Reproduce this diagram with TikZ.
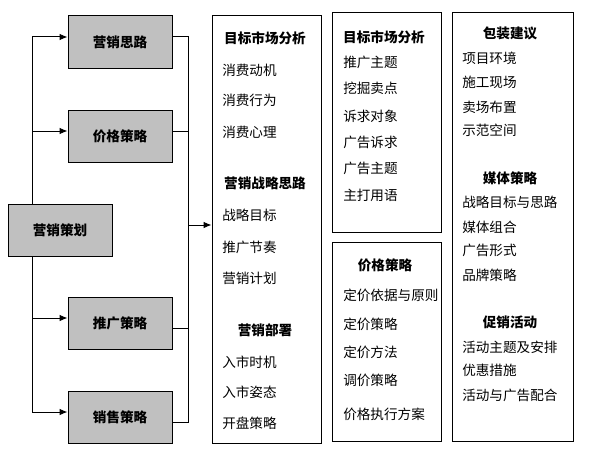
\documentclass[tikz,border=0pt]{standalone}
\usepackage{fontspec}
\setmainfont{Noto Sans CJK SC}
\usetikzlibrary{positioning}
\usetikzlibrary{arrows.meta}
\definecolor{boxgray}{RGB}{192,192,192}

\tikzset{
  graybox/.style={draw=black, fill=boxgray, line width=0.75pt, minimum width=78pt, minimum height=39pt, inner sep=0pt, font=\fontsize{10.2pt}{12pt}\selectfont\bfseries},
  listbox/.style={draw=black, line width=0.75pt, inner sep=0pt},
  item/.style={anchor=west, inner sep=0pt, font=\fontsize{10.2pt}{12pt}\selectfont},
  head/.style={inner sep=0pt, font=\fontsize{10.2pt}{12pt}\selectfont\bfseries},
  arr/.style={-{Latex[length=6pt,width=5pt]}, line width=0.75pt},
  conn/.style={line width=0.75pt}
}

\begin{document}
\begin{tikzpicture}[x=0.75pt, y=-0.75pt]
\useasboundingbox (0,0) rectangle (591,453);

% left column
\node[graybox] (silu) at (120,42) {营销思路};
\node[graybox] (jiage) at (120,136) {价格策略};
\node[graybox] (cehua) at (60,230) {营销策划};
\node[graybox] (tuiguang) at (120,323.5) {推广策略};
\node[graybox] (xiaoshou) at (120,417) {销售策略};

\coordinate (l1) at (32,37);
\coordinate (l2) at (32,131);
\coordinate (l3) at (32,318);
\coordinate (l4) at (32,412);

\draw[conn] (cehua.north -| l1) -- (l1);
\draw[conn] (cehua.south -| l4) -- (l4);
\draw[arr] (l1) -- (silu.west |- l1);
\draw[arr] (l2) -- (jiage.west |- l2);
\draw[arr] (l3) -- (tuiguang.west |- l3);
\draw[arr] (l4) -- (xiaoshou.west |- l4);

% right bus
\coordinate (r1) at (188,37);
\coordinate (r2) at (188,131);
\coordinate (r3) at (188,328);
\coordinate (r4) at (188,422);
\coordinate (rm) at (188,225);

\draw[conn] (silu.east |- r1) -- (r1) -- (r4) -- (xiaoshou.east |- r4);
\draw[conn] (jiage.east |- r2) -- (r2);
\draw[conn] (tuiguang.east |- r3) -- (r3);

% list boxes
\node[listbox, minimum width=81.75pt, minimum height=320.25pt] (plan) at (266.5,229.5) {};
\node[listbox, minimum width=81.75pt, minimum height=164.25pt] (adv) at (386.5,122.5) {};
\node[listbox, minimum width=81.75pt, minimum height=149.25pt] (price) at (386.5,341.5) {};
\node[listbox, minimum width=90.75pt, minimum height=321pt] (pack) at (512.5,227) {};

\draw[arr] (rm) -- (plan.west |- rm);

% box 1
{
\node[head] (p0) at (265,38) {目标市场分析};
\node[item] (p1) at (222,70) {消费动机};
\node[item] (p2) at (222,100) {消费行为};
\node[item] (p3) at (222,132) {消费心理};

\node[head] (p4) at (265,183) {营销战略思路};
\node[item] (p5) at (222,215) {战略目标};
\node[item] (p6) at (222,247) {推广节奏};
\node[item] (p7) at (222,278) {营销计划};

\node[head] (p8) at (265,330) {营销部署};
\node[item] (p9) at (222,362) {入市时机};
\node[item] (p10) at (222,392) {入市姿态};
\node[item] (p11) at (222,423) {开盘策略};
}

% box 2
{
\node[head] (a0) at (384,37) {目标市场分析};
\node[item] (a1) at (343,62) {推广主题};
\node[item] (a2) at (343,88) {挖掘卖点};
\node[item] (a3) at (343,116) {诉求对象};
\node[item] (a4) at (343,142) {广告诉求};
\node[item] (a5) at (343,168) {广告主题};
\node[item] (a6) at (343,195) {主打用语};
}

% box 3
{
\node[head] (c0) at (385,265) {价格策略};
\node[item] (c1) at (343,295) {定价依据与原则};
\node[item] (c2) at (343,324) {定价策略};
\node[item] (c3) at (343,352) {定价方法};
\node[item] (c4) at (343,380) {调价策略};
\node[item] (c5) at (343,414) {价格执行方案};
}

% box 4
{
\node[head] (b0) at (510,33) {包装建议};
\node[item] (b1) at (462,58) {项目环境};
\node[item] (b2) at (462,82) {施工现场};
\node[item] (b3) at (462,107) {卖场布置};
\node[item] (b4) at (462,130) {示范空间};

\node[head] (b5) at (510,178) {媒体策略};
\node[item] (b6) at (462,202) {战略目标与思路};
\node[item] (b7) at (462,227) {媒体组合};
\node[item] (b8) at (462,250) {广告形式};
\node[item] (b9) at (462,275) {品牌策略};

\node[head] (b10) at (510,322) {促销活动};
\node[item] (b11) at (462,347) {活动主题及安排};
\node[item] (b12) at (462,370) {优惠措施};
\node[item] (b13) at (462,395) {活动与广告配合};
}

\end{tikzpicture}
\end{document}
